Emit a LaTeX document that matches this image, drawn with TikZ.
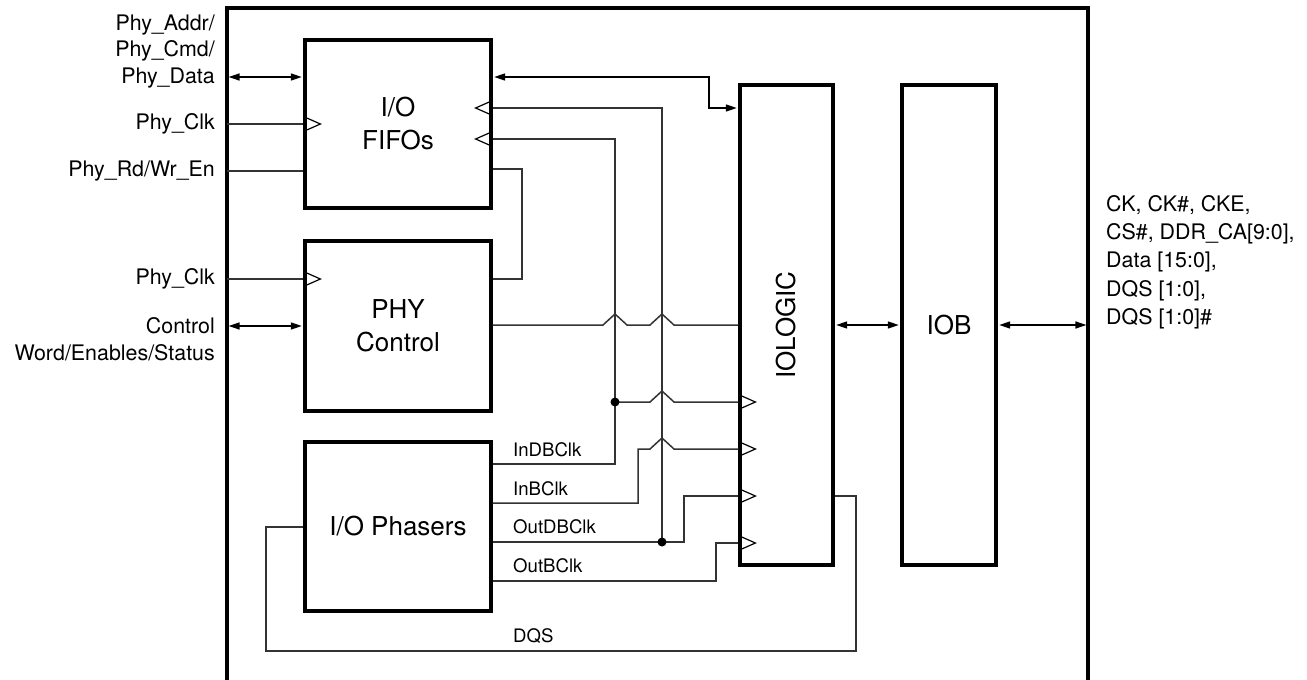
\documentclass[tikz,border=0pt]{standalone}
\usepackage{fontspec}
\setmainfont{TeX Gyre Heros}
\usepackage{tikz}
\usetikzlibrary{positioning,arrows.meta}
\tikzset{clkin/.pic={\draw[line width=1.2pt,line join=miter] (0,-7.5) -- (17,0) -- (0,7.5);}}

\begin{document}
\begin{tikzpicture}[x=1pt,y=-1pt,every node/.style={font=\fontsize{21.4}{26.5}\selectfont,inner sep=0pt}]
\tikzstyle{block}=[draw,line width=3.2pt,minimum width=186pt,align=center,font=\fontsize{26}{33}\selectfont]
\tikzstyle{tall}=[block,minimum width=93pt,minimum height=480pt]
\tikzstyle{wire}=[line width=1.5pt,black!80]
\tikzstyle{bus}=[wire,black,{Triangle[length=11pt,width=7pt]}-{Triangle[length=11pt,width=7pt]},shorten <=1.6pt,shorten >=1.6pt]
\tikzstyle{sig}=[font=\fontsize{18.6}{22}\selectfont,anchor=west]
\useasboundingbox (0,0) rectangle (1307,680);
% outer frame, open at the bottom
\draw[line width=3.2pt] (227,680) -- (227,8) -- (1088,8) -- (1088,680);
\coordinate (fl) at (227,0);
\coordinate (fr) at (1088,0);
% blocks
\node[block,minimum height=168pt] (fifo) at (398,124) {I/O\\FIFOs};
\node[block,minimum height=170pt] (phyctl) at (398,326) {PHY\\Control};
\node[block,minimum height=169pt] (phaser) at (398,526.5) {I/O Phasers};
\node[tall,label={[rotate=90,font=\fontsize{26}{33}\selectfont]center:IOLOGIC}] (iologic) at (786.5,325) {};
\node[tall,minimum width=94pt] (iob) at (949,325) {IOB};
% outside signals
\node[anchor=east,align=right] (addr) at (215,51.5) {Phy\_Addr/\\Phy\_Cmd/\\Phy\_Data};
\node[anchor=east] (clka) at (215,124) {Phy\_Clk};
\node[anchor=east] (rdwr) at (215,171) {Phy\_Rd/Wr\_En};
\node[anchor=east] (clkb) at (215,279) {Phy\_Clk};
\node[anchor=east,align=right] (ctlw) at (215,339) {Control\\Word/Enables/Status};
\node[anchor=west,align=left,font=\fontsize{21.4}{28.3}\selectfont] (pins) at (1106,262) {CK, CK\#, CKE,\\CS\#, DDR\_CA[9:0],\\Data [15:0],\\DQS [1:0],\\DQS [1:0]\#};
\draw[bus] (fl |- 0,77) -- (fifo.west |- 0,77);
\draw[wire] (fl |- fifo.west) -- (fifo.west);
\draw[wire] (fl |- 0,171) -- (fifo.west |- 0,171);
\draw[wire] (fl |- 0,279) -- (phyctl.west |- 0,279);
\draw[bus] (fl |- phyctl.west) -- (phyctl.west);
\pic at (fifo.west) {clkin};
\pic at (phyctl.west |- 0,279) {clkin};
% fifo side
\coordinate (jin) at (615,402);
\coordinate (jout) at (662,542);
\draw[bus] (fifo.east |- 0,77) -| (709,108) -- (iologic.west |- 0,108);
\draw[wire] (fifo.east |- 0,108) -| (jout);
\draw[wire] (fifo.east |- 0,139) -| (615,464) -- (phaser.east |- 0,464);
\draw[wire] (fifo.east |- 0,169) -| (522,279) -- (phyctl.east |- 0,279);
\pic[xscale=-1] at (fifo.east |- 0,108) {clkin};
\pic[xscale=-1] at (fifo.east |- 0,139) {clkin};
% into iologic, hopping over the verticals
\draw[wire] (phyctl.east |- 0,325) -- (603,325) -- ++(12,-11) -- ++(12,11) -- (650,325) -- ++(12,-11) -- ++(12,11) -- (iologic.west |- 0,325);
\draw[wire] (jin) -- (650,402) -- ++(12,-11) -- ++(12,11) -- (iologic.west |- jin);
\draw[wire] (phaser.east |- 0,503) -| (638,449) -- (650,449) -- ++(12,-11) -- ++(12,11) -- (iologic.west |- 0,449);
\draw[wire] (phaser.east |- jout) -- (jout) -- (684,542) -- (684,496) -- (iologic.west |- 0,496);
\draw[wire] (phaser.east |- 0,581) -| (716,543) -- (iologic.west |- 0,543);
\draw[wire] (iologic.east |- 0,496) -| (856,651) -| (266,527) -- (phaser.west |- 0,527);
\fill (jin) circle (4.5pt);
\fill (jout) circle (4.5pt);
\foreach \y in {402,449,496,543}
  \pic at (iologic.west |- 0,\y) {clkin};
\draw[bus] (iologic.east) -- (iob.west);
\draw[bus] (iob.east) -- (fr |- iob.east);
% phaser outputs
\node[sig] (indb) at (513,450) {InDBClk};
\node[sig] (inb) at (513,489) {InBClk};
\node[sig] (outdb) at (513,527) {OutDBClk};
\node[sig] (outb) at (513,566) {OutBClk};
\node[sig] (dqs) at (513,636) {DQS};
\end{tikzpicture}
\end{document}
